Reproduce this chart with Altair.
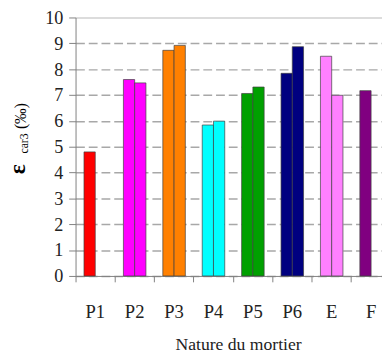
import altair as alt
import pandas as pd

categories = ["P1", "P2", "P3", "P4", "P5", "P6", "E", "F"]
colors = ["#FF0000", "#FF00FF", "#FF8000", "#00FFFF", "#00A000", "#000080", "#FF80FF", "#800080"]
serie_a = [4.80, 7.60, 8.73, 5.84, 7.06, 7.84, 8.50, 7.17]
serie_b = [None, 7.47, 8.92, 5.99, 7.31, 8.87, 6.99, None]

rows = []
for c, col, a, b in zip(categories, colors, serie_a, serie_b):
    rows.append({"cat": c, "serie": "a", "val": a, "col": col})
    if b is not None:
        rows.append({"cat": c, "serie": "b", "val": b, "col": col})
df = pd.DataFrame(rows)

FONT = "Liberation Serif"

bars = alt.Chart(df).mark_bar(stroke="#404040", strokeWidth=0.7).encode(
    x=alt.X("cat:N", sort=categories,
            scale=alt.Scale(domain=categories, range=[0, 322], paddingInner=0, paddingOuter=0),
            axis=alt.Axis(title="Nature du mortier", labelAngle=0, bandPosition=0, labelOffset=0,
                          tickSize=6, tickColor="#808080", domainColor="#808080",
                          labelFontSize=19, labelPadding=21,
                          titleFontSize=18, titleX=166, titleY=75, titleBaseline="alphabetic",
                          grid=False)),
    xOffset=alt.XOffset("serie:N", scale=alt.Scale(domain=["a", "b"], paddingInner=0, paddingOuter=0.75)),
    y=alt.Y("val:Q",
            scale=alt.Scale(domain=[0, 10], nice=False),
            axis=alt.Axis(title=None, values=list(range(11)), tickSize=7, tickColor="#808080",
                          domainColor="#808080", labelFontSize=18.5, labelPadding=6,
                          grid=True,
                          gridColor={"condition": {"test": "datum.value == 10", "value": "#d0d0d0"}, "value": "#a8a8a8"},
                          gridDash={"condition": {"test": "datum.value == 10", "value": []}, "value": [9, 4]},
                          gridWidth=1.5)),
    color=alt.Color("col:N", scale=None),
)

t = pd.DataFrame({"t": [""]})
eps = alt.Chart(t).mark_text(text="ε", angle=270, align="left", baseline="alphabetic",
                              font=FONT, fontSize=24, fontWeight="bold", color="#000000").encode(
    x=alt.value(-52), y=alt.value(160))
sub = alt.Chart(t).mark_text(text="car3", angle=270, align="left", baseline="alphabetic",
                              font=FONT, fontSize=12, color="#000000").encode(
    x=alt.value(-49), y=alt.value(139))
unit = alt.Chart(t).mark_text(text="(‰)", angle=270, align="left", baseline="alphabetic",
                               font=FONT, fontSize=16, color="#000000").encode(
    x=alt.value(-51), y=alt.value(114))

chart = alt.layer(bars, eps, sub, unit).properties(
    width=313, height=264,
    autosize=alt.AutoSizeParams(type="none"),
    padding={"left": 69, "top": 6, "right": 0, "bottom": 75},
).configure_view(stroke=None).configure_axis(
    labelFont=FONT, titleFont=FONT, labelColor="#222222", titleColor="#222222",
    titleFontWeight="normal",
).configure_text(font=FONT)

chart.save("out.html", embed_options={"renderer": "svg", "actions": False})
